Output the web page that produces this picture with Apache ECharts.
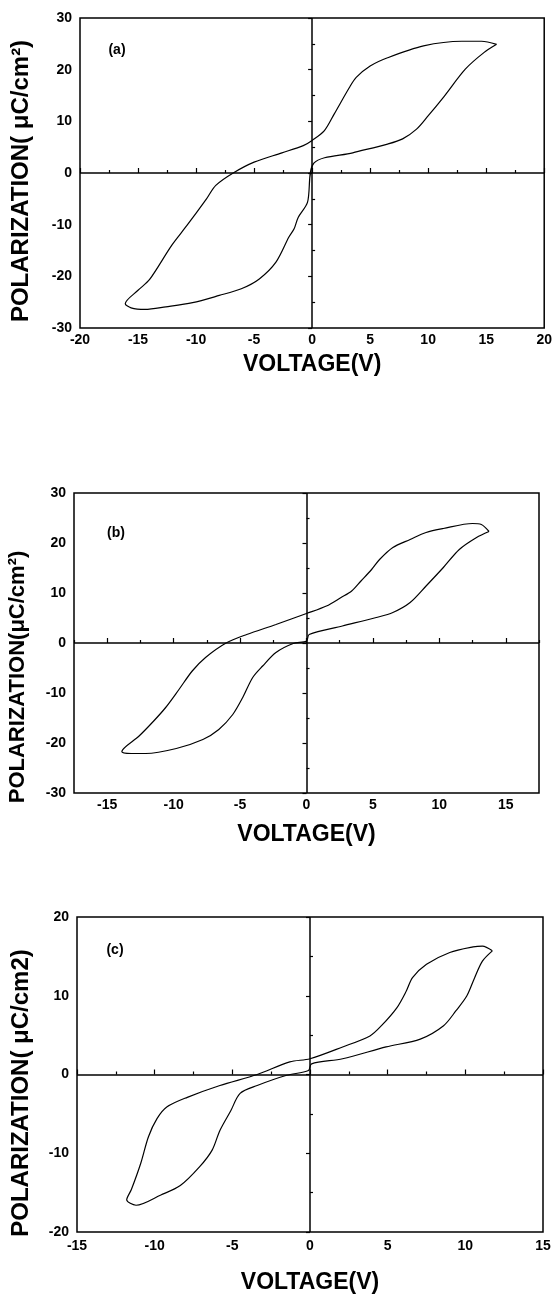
<!DOCTYPE html>
<html><head><meta charset="utf-8">
<script src="https://cdn.jsdelivr.net/npm/echarts@6/dist/echarts.min.js"></script>
<style>html,body{margin:0;padding:0;background:#fff}#c{width:555px;height:1300px}</style>
</head><body><div id="c"></div>
<script>
// Panel (a) loop: upper branch (from +tip down to -tip), then lower branch back
const voltageA = [15.9, 14.6, 12.9, 9.6, 6.5, 5.0, 3.8, 3.2, 1.9, 1.06, 0, -0.76, -2.6, -5.0, -6.8, -8.3, -9.1, -10.8, -12.1, -14.0, -15.0, -16.1,
  -15.6, -14.4, -12.6, -10.3, -8.0, -6.1, -4.55, -3.1, -2.0, -1.55, -1.2, -0.4, 0.15, 3.5, 6.5, 7.8, 9.0, 9.9, 11.4, 13.2, 14.8, 15.9];
const polarizationA = [24.9, 25.5, 25.5, 24.6, 22.3, 20.7, 18.5, 16.5, 11.4, 8.2, 6.3, 5.3, 3.9, 2.1, 0, -2.4, -5.0, -10.2, -14.0, -20.6, -22.7, -25.3,
  -26.1, -26.4, -25.9, -25.1, -23.7, -22.4, -20.5, -17.2, -12.4, -10.8, -8.6, -5.7, 1.9, 3.9, 5.6, 6.6, 8.5, 10.8, 14.9, 20.1, 23.3, 24.9];

const voltageB = [13.74, 13.16, 12.5, 10.3, 9.0, 7.8, 6.5, 5.5, 4.9, 4.1, 3.4, 2.6, 1.5, 0, -2.3, -4.5, -6.05, -7.6, -8.6, -9.6, -10.6, -11.5, -12.6, -13.9,
  -13.2, -12.1, -9.8, -7.8, -6.6, -5.55, -4.8, -4.05, -3.3, -2.3, -1.0, 0, 0.2, 2.7, 5.25, 6.5, 7.8, 9.0, 10.3, 11.5, 12.8, 13.74];
const polarizationB = [22.3, 23.7, 23.9, 22.9, 22.1, 20.7, 19.1, 16.7, 14.7, 12.4, 10.4, 9.1, 7.4, 5.9, 3.7, 1.7, 0, -2.9, -5.6, -9.3, -12.9, -15.6, -18.6, -21.7,
  -22.1, -22.1, -21.1, -19.3, -17.3, -14.3, -10.9, -6.9, -4.6, -1.9, -0.1, 0.4, 1.7, 3.4, 5.1, 6.1, 8.1, 11.4, 15.1, 18.7, 21.1, 22.3];

const voltageC = [11.74, 11.1, 10.5, 9.0, 7.5, 6.6, 6.2, 5.6, 4.6, 3.86, 2.1, 0, -1.3, -3.4, -5.8, -7.9, -9.2, -9.85, -10.4, -10.9, -11.5, -11.8,
  -11.2, -9.6, -8.35, -7.1, -6.3, -5.8, -5.1, -4.5, -3.4, -1.5, -0.1, 0.1, 2.1, 4.9, 7.1, 8.6, 9.4, 10.1, 10.6, 11.1, 11.74];
const polarizationC = [15.7, 16.3, 16.2, 15.5, 14.0, 12.3, 10.6, 8.5, 6.2, 4.9, 3.5, 2.0, 1.6, 0, -1.4, -2.9, -4.1, -5.6, -7.9, -11.3, -14.6, -15.9,
  -16.6, -15.3, -14.1, -11.7, -9.6, -7.1, -4.6, -2.4, -1.4, -0.1, 0.5, 1.35, 2.0, 3.5, 4.5, 6.2, 8.1, 10.0, 12.3, 14.4, 15.7];

const xTicksA = [-20, -15, -10, -5, 0, 5, 10, 15, 20];
const xTicksB = [-15, -10, -5, 0, 5, 10, 15];
const xTicksC = [-15, -10, -5, 0, 5, 10, 15];
const yTicksAB = [-30, -20, -10, 0, 10, 20, 30];
const yTicksC = [-20, -10, 0, 10, 20];

const panelLabels = ['(a)', '(b)', '(c)'];
const yTitles = ['POLARIZATION( \u03bcC/cm\u00b2)', 'POLARIZATION(\u03bcC/cm\u00b2)', 'POLARIZATION( \u03bcC/cm2)'];
const xTitle = 'VOLTAGE(V)';

const FONT = '"Liberation Sans", Arial, sans-serif';

function mids(t) { const r = []; for (let i = 0; i < t.length - 1; i++) r.push((t[i] + t[i + 1]) / 2); return r; }
function zip(a, b) { return a.map((v, i) => [v, b[i]]); }

const panels = [
  { vx: voltageA, py: polarizationA, xt: xTicksA, yt: yTicksAB, xmin: -20, xmax: 20, ymin: -30, ymax: 30,
    grid: { left: 80, top: 18, width: 466, height: 310 }, xMargin: 5, xGap: 37,
    label: [117, 50], title: [21, 181, 24] },
  { vx: voltageB, py: polarizationB, xt: xTicksB, yt: yTicksAB, xmin: -17.5, xmax: 17.5, ymin: -30, ymax: 30,
    grid: { left: 74, top: 493, width: 465, height: 300 }, xMargin: 5, xGap: 42,
    label: [116, 533], title: [17.5, 677, 22] },
  { vx: voltageC, py: polarizationC, xt: xTicksC, yt: yTicksC, xmin: -15, xmax: 15, ymin: -20, ymax: 20,
    grid: { left: 77, top: 917, width: 466, height: 315 }, xMargin: 7, xGap: 51,
    label: [115, 950], title: [21, 1093, 24] }
];

const grids = [], xAxes = [], yAxes = [], series = [], graphics = [];
panels.forEach((p, i) => {
  grids.push(Object.assign({ show: true, borderColor: '#000', borderWidth: 1.5, backgroundColor: 'transparent' }, p.grid));
  const xMinor = mids(p.xt).concat([p.xt[0] - 2.5, p.xt[p.xt.length - 1] + 2.5]).filter(v => v >= p.xmin && v <= p.xmax);
  const yMinor = mids(p.yt);
  xAxes.push({
    gridIndex: i, type: 'value', min: p.xmin, max: p.xmax, position: 'bottom',
    axisLine: { show: false }, splitLine: { show: false },
    axisTick: { show: true, inside: true, length: 5, customValues: p.xt, lineStyle: { color: '#000', width: 1.2 } },
    axisLabel: { customValues: p.xt, margin: p.xMargin, color: '#000', fontFamily: FONT, fontWeight: 'bold', fontSize: 14 },
    name: xTitle, nameLocation: 'middle', nameGap: p.xGap,
    nameTextStyle: { color: '#000', fontFamily: FONT, fontWeight: 'bold', fontSize: 23, verticalAlign: 'middle' }
  });
  xAxes.push({
    gridIndex: i, type: 'value', min: p.xmin, max: p.xmax, position: 'bottom',
    axisLine: { show: false }, splitLine: { show: false }, axisLabel: { show: false },
    axisTick: { show: true, inside: true, length: 3, customValues: xMinor, lineStyle: { color: '#000', width: 1.2 } }
  });
  yAxes.push({
    gridIndex: i, type: 'value', min: p.ymin, max: p.ymax, position: 'left',
    axisLine: { show: false }, splitLine: { show: false },
    axisTick: { show: true, inside: false, length: 4, customValues: p.yt, lineStyle: { color: '#000', width: 1.2 } },
    axisLabel: { customValues: p.yt, margin: 8, color: '#000', fontFamily: FONT, fontWeight: 'bold', fontSize: 14 }
  });
  yAxes.push({
    gridIndex: i, type: 'value', min: p.ymin, max: p.ymax, position: 'left',
    axisLine: { show: false }, splitLine: { show: false }, axisLabel: { show: false },
    axisTick: { show: true, inside: true, length: 3, customValues: yMinor, lineStyle: { color: '#000', width: 1.2 } }
  });
  series.push({
    type: 'line', xAxisIndex: 2 * i, yAxisIndex: 2 * i, data: zip(p.vx, p.py),
    showSymbol: false, smooth: 0.3, lineStyle: { color: '#000', width: 1.2 },
    markLine: {
      silent: true, symbol: ['none', 'none'], label: { show: false },
      lineStyle: { color: '#000', width: 1.5, type: 'solid' },
      emphasis: { disabled: true },
      data: [{ xAxis: 0 }, { yAxis: 0 }]
    }
  });
  graphics.push({ type: 'text', x: p.label[0], y: p.label[1],
    style: { text: panelLabels[i], fill: '#000', fontFamily: FONT, fontWeight: 'bold', fontSize: 14, align: 'center', verticalAlign: 'middle' } });
  graphics.push({ type: 'text', x: p.title[0], y: p.title[1], rotation: Math.PI / 2,
    style: { text: yTitles[i], fill: '#000', fontFamily: FONT, fontWeight: 'bold', fontSize: p.title[2], align: 'center', verticalAlign: 'middle' } });
});

const chart = echarts.init(document.getElementById('c'), null, { renderer: 'canvas' });
chart.setOption({
  animation: false, backgroundColor: '#fff',
  grid: grids, xAxis: xAxes, yAxis: yAxes, series: series, graphic: graphics
});
</script></body></html>
